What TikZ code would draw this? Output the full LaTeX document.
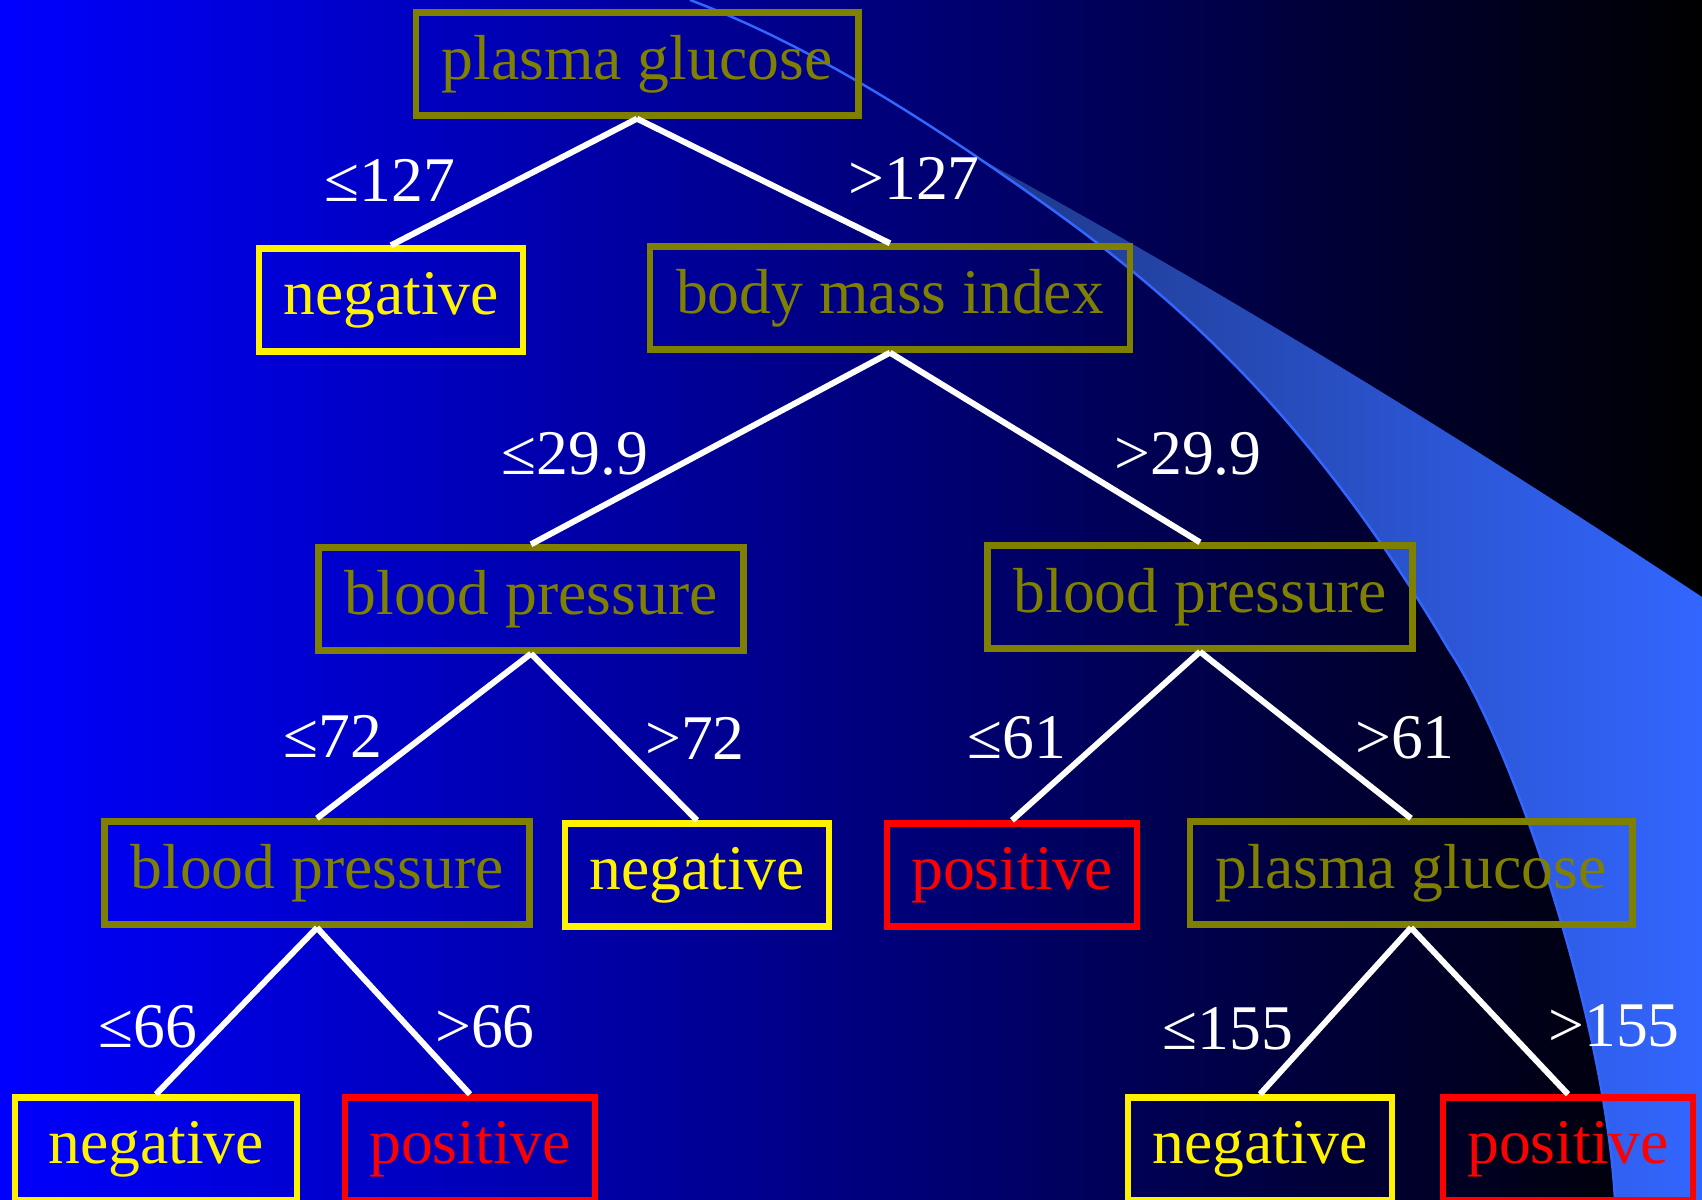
\documentclass[tikz,border=0pt]{standalone}
\usepackage{fontspec}
\setmainfont{Liberation Serif}
\definecolor{bgblue}{RGB}{0,0,255}
\definecolor{olivebox}{RGB}{128,128,0}
\definecolor{swooshdark}{RGB}{30,56,136}
\definecolor{swooshlight}{RGB}{51,102,255}
\begin{document}
\begin{tikzpicture}[x=0.01cm, y=-0.01cm]
	    \tikzset{
	      box/.style={draw, line width=1.8pt, minimum height=1.03cm, inner xsep=0.24cm, font=\fontsize{18.1pt}{22pt}\selectfont},
	      testbox/.style={box, color=olivebox, inner xsep=0.26cm},
	      negbox/.style={box, color=yellow},
	      posbox/.style={box, color=red},
	      cond/.style={color=white, inner sep=0pt, font=\fontsize{18.1pt}{22pt}\selectfont},
	      edge/.style={color=white, line width=1.7pt}
	    }
	    \useasboundingbox (0,0) rectangle (1702,1200);
	    \clip (0,0) rectangle (1702,1200);
	    \shade[left color=bgblue, right color=black] (0,0) rectangle (1702,1200);
	    \shade[left color=swooshdark, right color=swooshlight] (977,157) .. controls (1220,290) and (1450,430) .. (1702,597) -- (1702,1200) -- (1615,1200) .. controls (1605,1017) and (1512,744) .. (1449,650) .. controls (1343,470) and (1237,357) .. (1131,270) .. controls (1080,228) and (1028,192) .. (977,157) -- cycle;
	    \draw[color=swooshlight, line width=0.7pt] (690,0) .. controls (786,36) and (881,92) .. (977,157) .. controls (1028,192) and (1080,228) .. (1131,270) .. controls (1237,357) and (1343,470) .. (1449,650) .. controls (1512,744) and (1605,1017) .. (1615,1200);
	    \node[testbox] (pgA) at (637,64) {plasma glucose};
	    \node[negbox] (negA) at (391,300) {negative};
	    \node[testbox] (bmi) at (890,298) {body mass index};
	    \node[testbox] (bpL) at (531,599) {blood pressure};
	    \node[testbox] (bpR) at (1200,597) {blood pressure};
	    \node[testbox] (bpLL) at (317,873) {blood pressure};
	    \node[negbox] (negB) at (697,875) {negative};
	    \node[posbox] (posA) at (1012,875) {positive};
	    \node[testbox] (pgB) at (1411,873) {plasma glucose};
	    \node[negbox, minimum width=2.82cm] (negC) at (156,1149) {negative};
	    \node[posbox] (posB) at (470,1149) {positive};
	    \node[negbox] (negD) at (1260,1149) {negative};
	    \node[posbox] (posC) at (1568,1149) {positive};
	    \draw[edge] (pgA.south) -- (negA.north);
	    \draw[edge] (pgA.south) -- (bmi.north);
	    \draw[edge] (bmi.south) -- (bpL.north);
	    \draw[edge] (bmi.south) -- (bpR.north);
	    \draw[edge] (bpL.south) -- (bpLL.north);
	    \draw[edge] (bpL.south) -- (negB.north);
	    \draw[edge] (bpR.south) -- (posA.north);
	    \draw[edge] (bpR.south) -- (pgB.north);
	    \draw[edge] (bpLL.south) -- (negC.north);
	    \draw[edge] (bpLL.south) -- (posB.north);
	    \draw[edge] (pgB.south) -- (negD.north);
	    \draw[edge] (pgB.south) -- (posC.north);
	    \node[cond] (le127) at (390,180) {≤127};
	    \node[cond] (gt127) at (914,178) {>127};
	    \node[cond] (le299) at (575,454) {≤29.9};
	    \node[cond] (gt299) at (1188,454) {>29.9};
	    \node[cond] (le72) at (333,736) {≤72};
	    \node[cond] (gt72) at (695,738) {>72};
	    \node[cond] (le61) at (1017,738) {≤61};
	    \node[cond] (gt61) at (1405,738) {>61};
	    \node[cond] (le66) at (148,1027) {≤66};
	    \node[cond] (gt66) at (485,1027) {>66};
	    \node[cond] (le155) at (1228,1029) {≤155};
	    \node[cond] (gt155) at (1614,1026) {>155};
	    \end{tikzpicture}
\end{document}
